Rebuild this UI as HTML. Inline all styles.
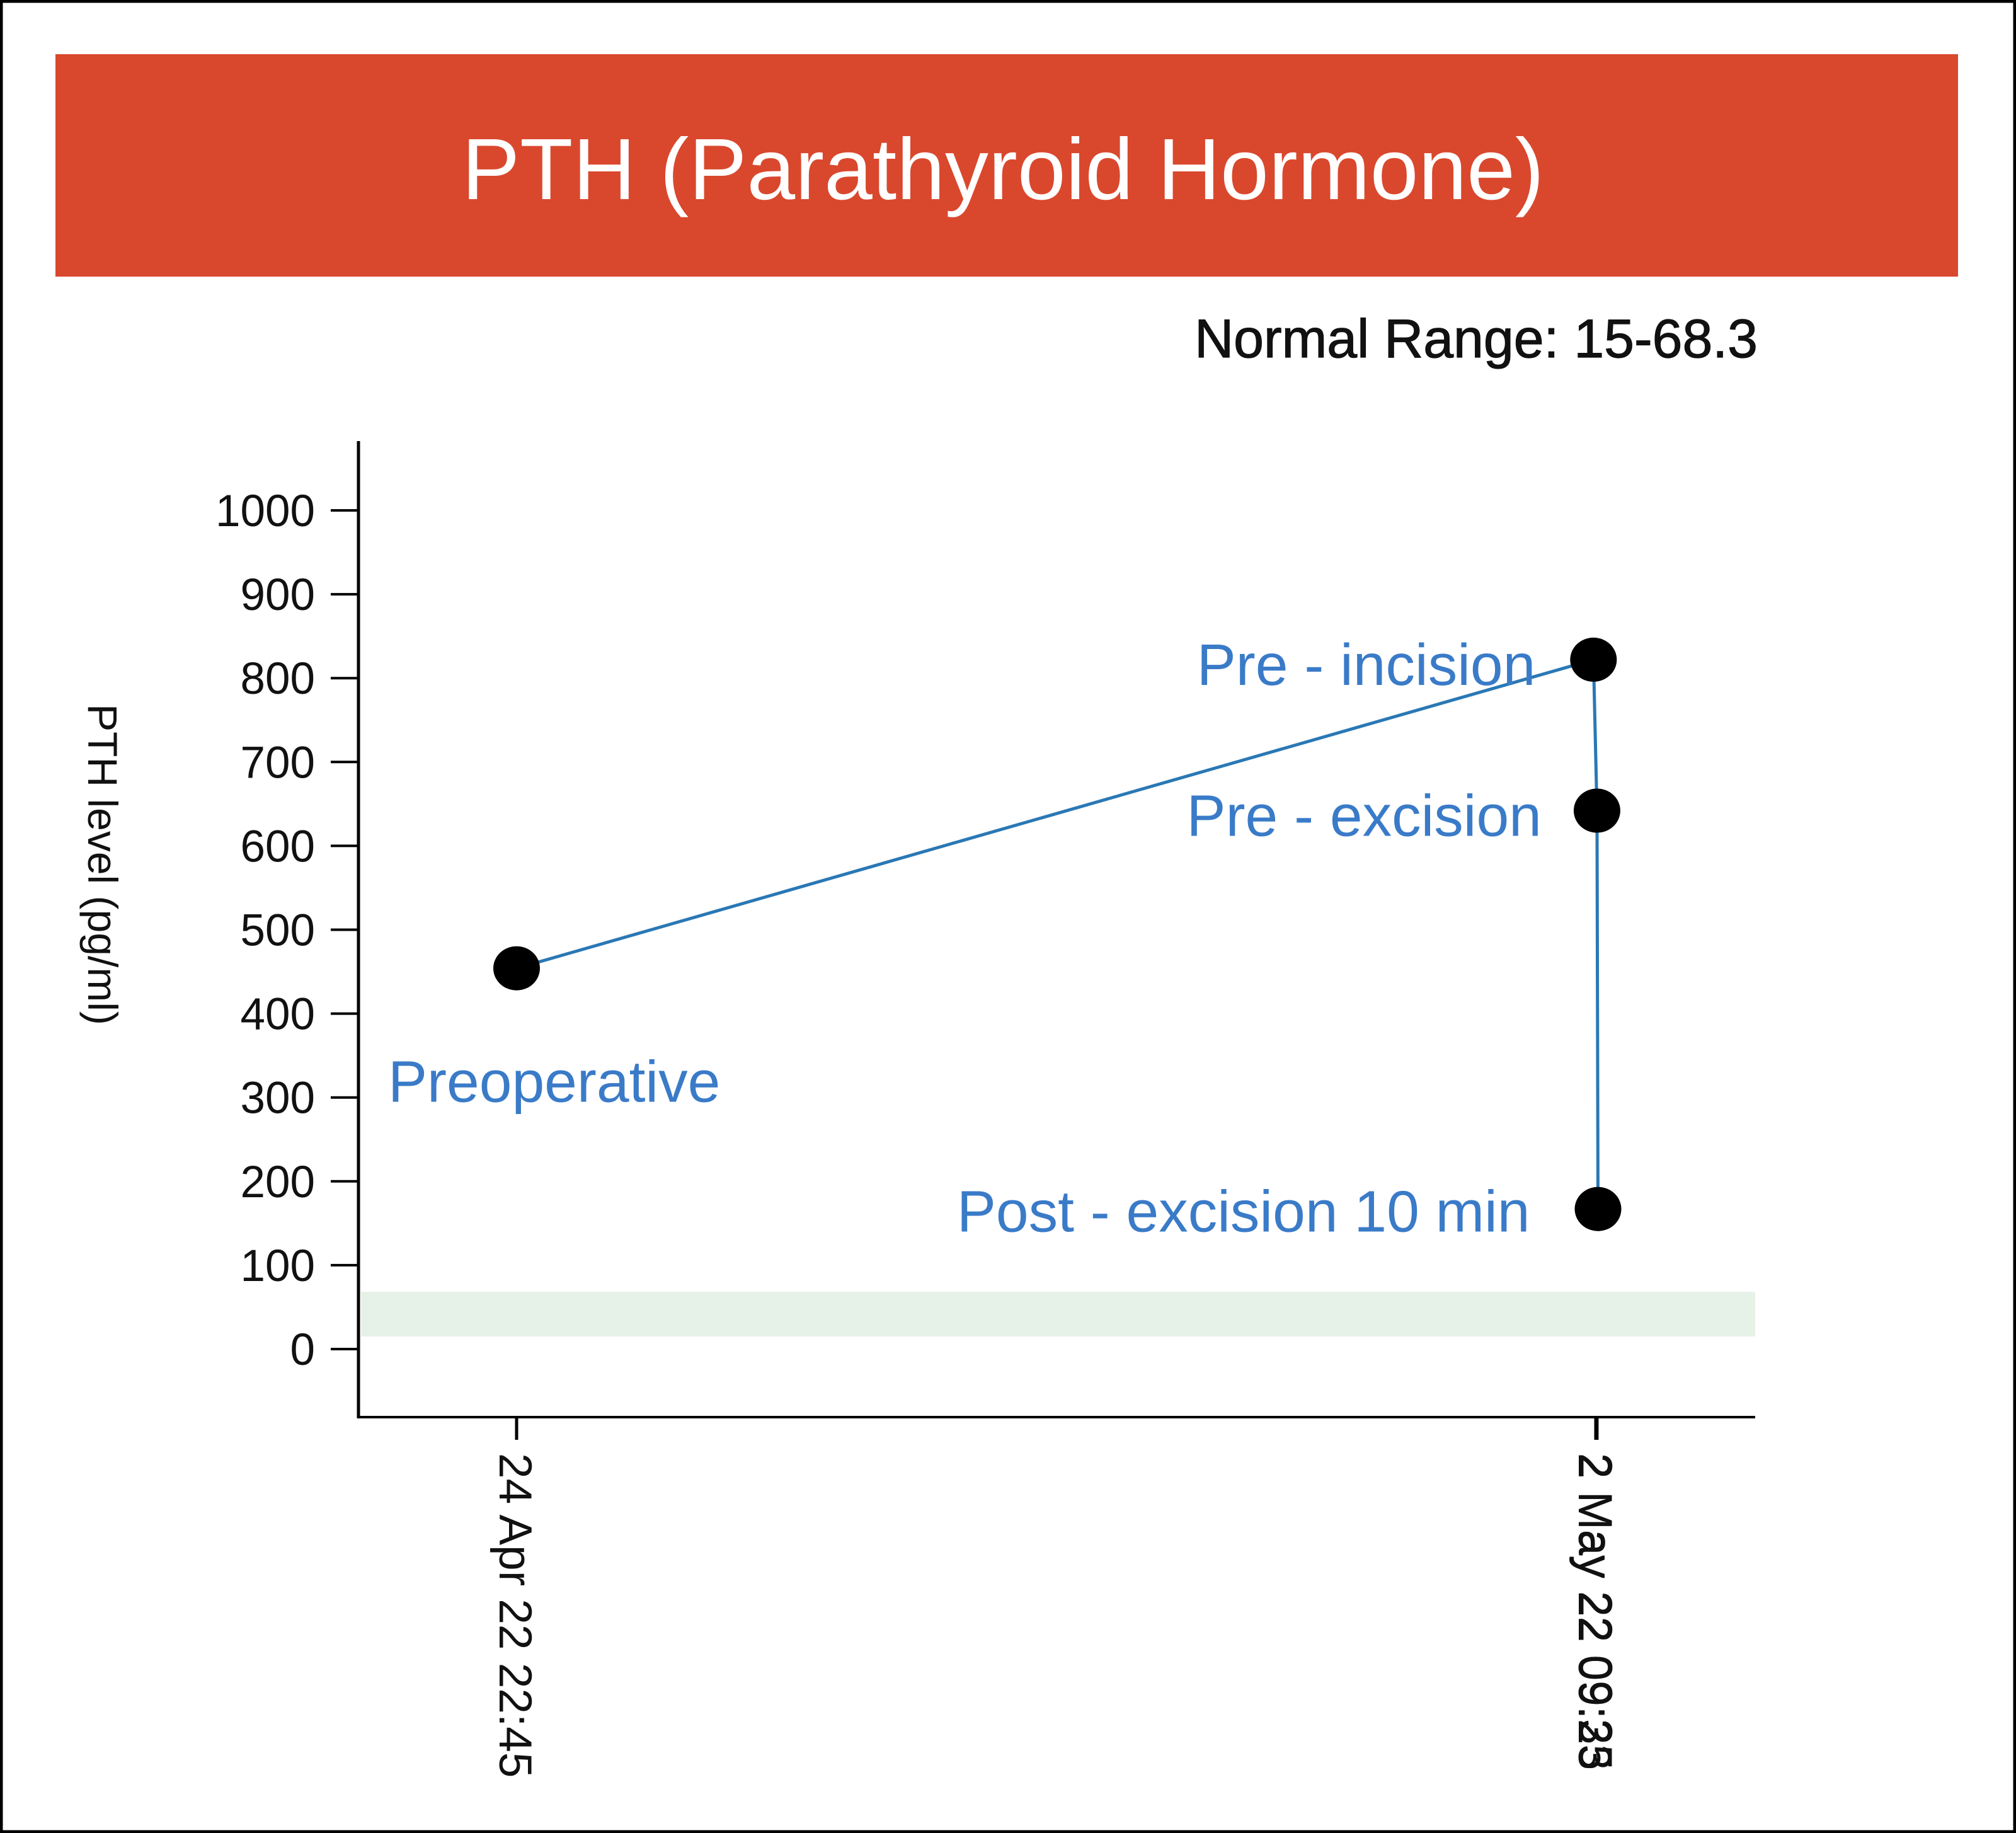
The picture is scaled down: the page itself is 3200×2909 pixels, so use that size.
<!DOCTYPE html>
<html><head><meta charset="utf-8"><style>
html,body{margin:0;padding:0;background:#fff}
svg{display:block}
</style></head><body>
<svg id="chart" width="3200" height="2909" viewBox="0 0 3200 2909" xmlns="http://www.w3.org/2000/svg" font-family="'Liberation Sans', sans-serif">
<rect x="2" y="2" width="3196" height="2905" fill="#fff" stroke="#000" stroke-width="5"/>
<rect x="88" y="86" width="3020" height="353" fill="#d9482d"/>
<text x="1592" y="316" font-size="138" fill="#fff" text-anchor="middle">PTH (Parathyroid Hormone)</text>
<text x="2790" y="567" font-size="86" fill="#111" text-anchor="end" stroke="#111" stroke-width="1.2">Normal Range: 15-68.3</text>
<g id="plot"></g>
</svg>
<script>
const yTicks = [0,100,200,300,400,500,600,700,800,900,1000];
const normalRange = [15, 68.3];
const pointLabels = ["Preoperative","Pre - incision","Pre - excision","Post - excision 10 min"];
const pointTimes = ["2022-04-24T22:45","2022-05-02T09:00","2022-05-02T09:35","2022-05-02T09:45"];
const pthValues = [454, 822, 642, 167];
const xTickTimes = ["2022-04-24T22:45","2022-05-02T09:23","2022-05-02T09:35"];
const xTickLabels = ["24 Apr 22 22:45","2 May 22 09:23","2 May 22 09:35"];

const NS = "http://www.w3.org/2000/svg";
const g = document.getElementById('plot');
const Y0 = 2141, PX_PER = 1.331;
function y(v){ return Y0 - v*PX_PER; }
const t0 = Date.parse("2022-04-24T22:45"), t1 = Date.parse("2022-05-02T09:23");
function x(t){ return 820 + (Date.parse(t)-t0)/(t1-t0)*1713; }
function mk(tag, attrs){ const e=document.createElementNS(NS,tag); for(const k in attrs) e.setAttribute(k,attrs[k]); g.appendChild(e); return e; }

let band = mk('rect',{x:573,y:y(normalRange[1]),width:2213,height:y(normalRange[0])-y(normalRange[1]),fill:'#e6f2e8'});



let ya = mk('line',{x1:569,y1:700,x2:569,y2:2251,stroke:'#000','stroke-width':5});


let xa = mk('line',{x1:567,y1:2249,x2:2786,y2:2249,stroke:'#000','stroke-width':4});



yTicks.forEach(v=>{
  let tk = mk('line',{x1:525,y1:y(v),x2:569,y2:y(v),stroke:'#000','stroke-width':4});
  
  
  let tl = mk('text',{x:500,y:y(v)+25,'font-size':71,'text-anchor':'end',fill:'#111'});
  tl.textContent = v;
  
  
});
let yt = mk('text',{x:0,y:0,'font-size':66,'text-anchor':'middle',fill:'#111',transform:'translate(140,1372) rotate(90)'});
yt.textContent = 'PTH level (pg/ml)';



xTickTimes.forEach((t,i)=>{
  const xx = x(t);
  let tk = mk('line',{x1:xx,y1:2249,x2:xx,y2:2285,stroke:'#000','stroke-width':5});
  
  
  let tl = mk('text',{x:0,y:0,'font-size':73,fill:'#111',transform:`translate(${xx-27},2306) rotate(90)`});
  tl.textContent = xTickLabels[i];
  
  
});

const pts = pthValues.map((v,i)=>x(pointTimes[i])+','+y(v)).join(' ');
let ln = mk('polyline',{points:pts,fill:'none',stroke:'#2a78b5','stroke-width':5});



const labelAnchor = ['start','end','end','end'];
const labelDx = [-204,-92,-88,-108];
const labelDy = [212,40,40,36];
pthValues.forEach((v,i)=>{
  const cx = x(pointTimes[i]), cy = y(v);
  let c = mk('ellipse',{cx:cx,cy:cy,rx:37,ry:35,fill:'#000'});
  
  
  let t = mk('text',{x:cx+labelDx[i],y:cy+labelDy[i],'font-size':93,fill:'#3a7bc8','text-anchor':labelAnchor[i]});
  t.textContent = pointLabels[i];
  
  
});
</script>
</body></html>
